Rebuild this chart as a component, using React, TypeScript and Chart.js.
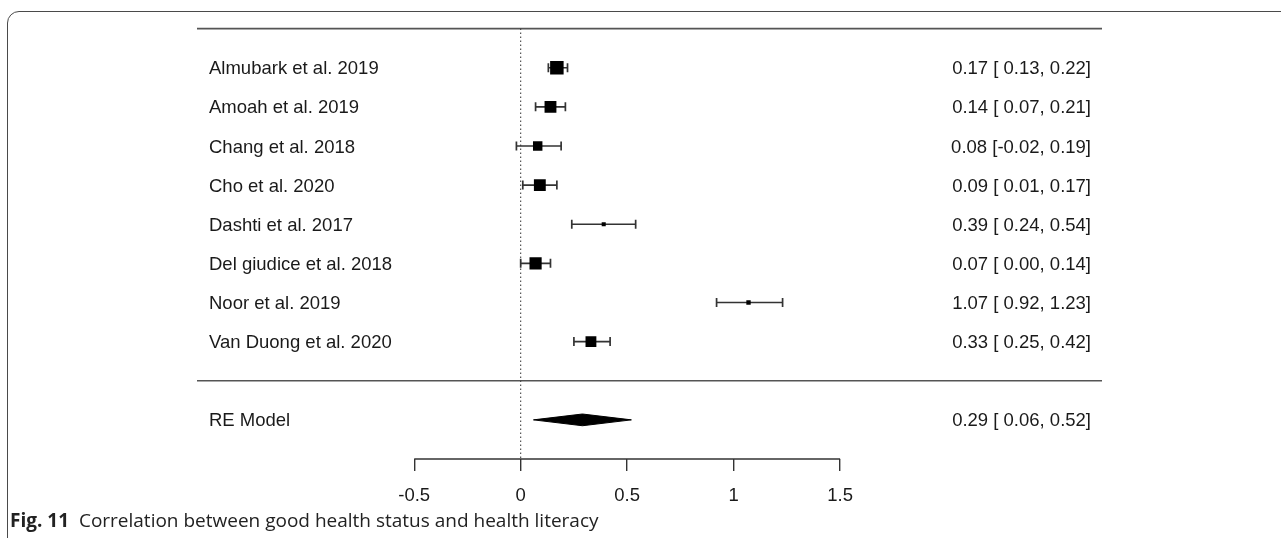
import { useEffect, useRef } from "react";
import { Chart, registerables } from "chart.js";

Chart.register(...registerables);

// ---- data ----
const studies = [
  "Almubark et al. 2019",
  "Amoah et al. 2019",
  "Chang et al. 2018",
  "Cho et al. 2020",
  "Dashti et al. 2017",
  "Del giudice et al. 2018",
  "Noor et al. 2019",
  "Van Duong et al. 2020",
];
const estimates = [0.17, 0.14, 0.08, 0.09, 0.39, 0.07, 1.07, 0.33];
const lowerCI = [0.13, 0.07, -0.02, 0.01, 0.24, 0.0, 0.92, 0.25];
const upperCI = [0.22, 0.21, 0.19, 0.17, 0.54, 0.14, 1.23, 0.42];
const weights = [17.3, 15.2, 12.1, 15.2, 5.2, 15.6, 5.6, 13.9];

const summaryLabel = "RE Model";
const summaryEstimate = [0.29];
const summaryLower = [0.06];
const summaryUpper = [0.52];

const xTicks = [-0.5, 0, 0.5, 1, 1.5];

// ---- layout / style constants ----
const X_MIN = -1.52;
const X_MAX = 2.73;
const K = studies.length;
const ROW_TOP = K + 1;
const ROW_SEP = 0;
const ROW_SUMMARY = -1;
const ROW_AXIS = -2;
const DIAMOND_HALF = 0.15;
const LABEL_FONT = '18.5px "Liberation Sans", Arial, sans-serif';
const INK = "#1a1a1a";

const fmt = (v: number) => v.toFixed(2);
const ciText = (e: number, l: number, u: number) =>
  `${fmt(e)} [${fmt(l).padStart(5, " ")}, ${fmt(u)}]`;

const rowOf = (i: number) => K - i;

export default function App() {
  const ref = useRef<HTMLCanvasElement | null>(null);

  useEffect(() => {
    const canvas = ref.current;
    if (!canvas) return;

    const ciLine: any[] = [];
    const caps: any[] = [];
    studies.forEach((_, i) => {
      const r = rowOf(i);
      ciLine.push({ x: lowerCI[i], y: r }, { x: upperCI[i], y: r }, { x: upperCI[i], y: null });
      caps.push({ x: lowerCI[i], y: r }, { x: upperCI[i], y: r });
    });
    const squares = studies.map((_, i) => ({ x: estimates[i], y: rowOf(i) }));
    const squareRadius = weights.map((w) => (w * 0.78) / (2 * Math.SQRT1_2));

    const diamond = [
      { x: summaryLower[0], y: ROW_SUMMARY },
      { x: summaryEstimate[0], y: ROW_SUMMARY + DIAMOND_HALF },
      { x: summaryUpper[0], y: ROW_SUMMARY },
      { x: summaryEstimate[0], y: ROW_SUMMARY - DIAMOND_HALF },
      { x: summaryLower[0], y: ROW_SUMMARY },
    ];

    const textPlugin = {
      id: "forestText",
      afterDatasetsDraw(chart: any) {
        const { ctx, chartArea, scales } = chart;
        const ys = scales.y;
        ctx.save();
        ctx.font = LABEL_FONT;
        ctx.fillStyle = INK;
        ctx.textBaseline = "alphabetic";
        const off = 6.6;
        const lx = chartArea.left + 12;
        const rx = chartArea.right - 11;
        studies.forEach((s, i) => {
          const y = ys.getPixelForValue(rowOf(i)) + off;
          ctx.textAlign = "left";
          ctx.fillText(s, lx, y);
          ctx.textAlign = "right";
          ctx.fillText(ciText(estimates[i], lowerCI[i], upperCI[i]), rx, y);
        });
        const ySum = ys.getPixelForValue(ROW_SUMMARY) + off;
        ctx.textAlign = "left";
        ctx.fillText(summaryLabel, lx, ySum);
        ctx.textAlign = "right";
        ctx.fillText(ciText(summaryEstimate[0], summaryLower[0], summaryUpper[0]), rx, ySum);
        ctx.restore();
      },
    };

    const chart = new Chart(canvas, {
      type: "scatter",
      data: {
        datasets: [
          {
            type: "line",
            data: [{ x: X_MIN, y: ROW_TOP }, { x: X_MAX, y: ROW_TOP }],
            borderColor: "#555",
            borderWidth: 1.6,
            pointRadius: 0,
            clip: false,
            order: 10,
          } as any,
          {
            type: "line",
            data: [{ x: X_MIN, y: ROW_SEP }, { x: X_MAX, y: ROW_SEP }],
            borderColor: "#555",
            borderWidth: 1.6,
            pointRadius: 0,
            clip: false,
            order: 10,
          } as any,
          {
            type: "line",
            data: [{ x: 0, y: ROW_TOP }, { x: 0, y: ROW_AXIS }],
            borderColor: "#444",
            borderWidth: 1.1,
            borderDash: [1.5, 2.5],
            pointRadius: 0,
            clip: false,
            order: 9,
          } as any,
          {
            type: "line",
            data: [
              { x: xTicks[0], y: ROW_AXIS },
              { x: xTicks[xTicks.length - 1], y: ROW_AXIS },
            ],
            borderColor: "#333",
            borderWidth: 1.4,
            pointRadius: 0,
            clip: false,
            order: 9,
          } as any,
          {
            type: "line",
            data: ciLine,
            borderColor: "#333",
            borderWidth: 1.6,
            pointRadius: 0,
            spanGaps: false,
            order: 5,
          } as any,
          {
            type: "scatter",
            data: caps,
            pointStyle: "line",
            rotation: 90,
            pointRadius: 4.5,
            borderColor: "#333",
            borderWidth: 1.7,
            order: 4,
          } as any,
          {
            type: "scatter",
            data: squares,
            pointStyle: "rect",
            pointRadius: squareRadius,
            backgroundColor: "#000",
            borderWidth: 0,
            order: 1,
          } as any,
          {
            type: "line",
            data: diamond,
            borderColor: "#000",
            backgroundColor: "#000",
            borderWidth: 1,
            fill: "shape",
            pointRadius: 0,
            order: 1,
          } as any,
        ],
      },
      options: {
        animation: false,
        responsive: true,
        maintainAspectRatio: false,
        events: [],
        layout: { padding: { left: 197, right: 179, top: 28.6, bottom: 0 } },
        plugins: { legend: { display: false }, tooltip: { enabled: false } },
        scales: {
          x: {
            type: "linear",
            min: X_MIN,
            max: X_MAX,
            afterBuildTicks: (scale: any) => {
              scale.ticks = xTicks.map((v) => ({ value: v }));
            },
            afterFit: (scale: any) => {
              scale.height = 79;
            },
            grid: {
              drawOnChartArea: false,
              drawTicks: true,
              tickLength: 12,
              color: "#333",
              lineWidth: 1.4,
            },
            border: { display: false },
            ticks: {
              autoSkip: false,
              maxRotation: 0,
              padding: 14,
              color: INK,
              font: { family: '"Liberation Sans", Arial, sans-serif', size: 18.5 },
              callback: (v: any) => String(v),
            },
          },
          y: {
            type: "linear",
            display: false,
            min: ROW_AXIS,
            max: ROW_TOP,
          },
        },
      },
      plugins: [textPlugin],
    });
    return () => chart.destroy();
  }, []);

  return (
    <div
      style={{
        position: "fixed",
        left: 0,
        top: 0,
        width: 1281,
        height: 538,
        overflow: "hidden",
        background: "#fff",
      }}
    >
      <div
        style={{
          position: "absolute",
          left: 7,
          top: 11,
          width: 1400,
          height: 700,
          border: "1.4px solid #4a4a4a",
          borderRadius: 12,
          boxSizing: "border-box",
        }}
      />
      <div style={{ position: "absolute", left: 0, top: 0, width: 1281, height: 538 }}>
        <canvas ref={ref} />
      </div>
      <div
        style={{
          position: "absolute",
          left: 10,
          top: 510,
          fontFamily: '"Open Sans", "Noto Sans", sans-serif',
          fontSize: 19,
          lineHeight: "20px",
          color: "#222",
          whiteSpace: "pre",
        }}
      >
        <b>Fig. 11</b>
        {"  Correlation between good health status and health literacy"}
      </div>
    </div>
  );
}
